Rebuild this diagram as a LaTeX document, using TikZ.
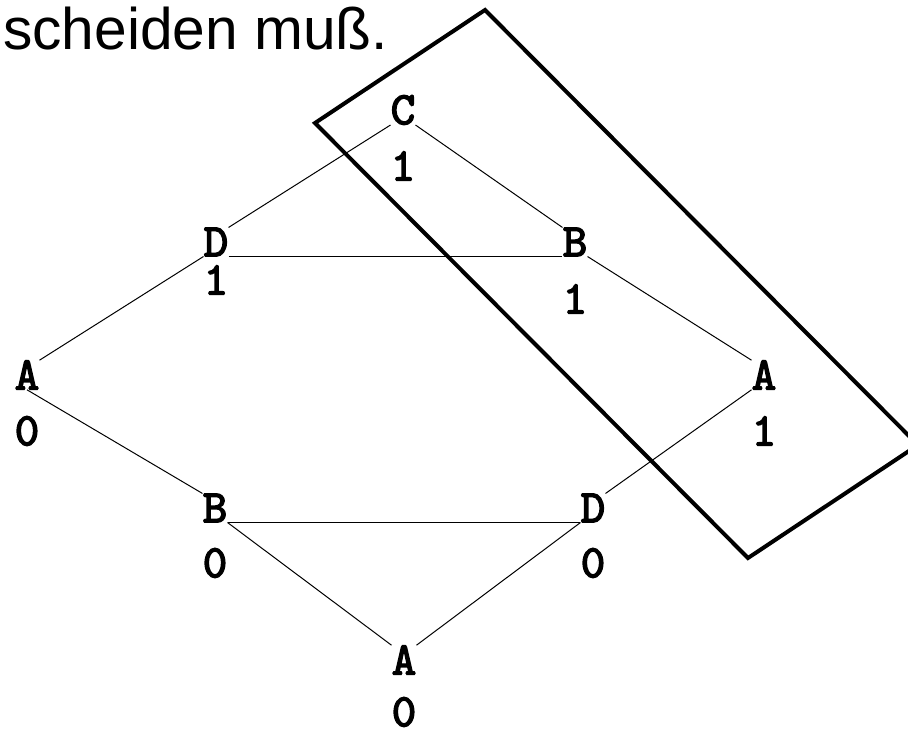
\documentclass[tikz,border=0pt]{standalone}
\usepackage{fontspec}
\newfontfamily\headfont{Liberation Sans}
\newfontfamily\lblfont{lmmono10-regular.otf}[FakeBold=3]
\tikzset{
  lbl/.style={font=\lblfont\fontsize{35}{35}\selectfont, inner sep=0pt},
  link/.style={line width=0.75pt},
  frame/.style={line width=3pt, line join=miter},
}
\begin{document}
\begin{tikzpicture}[x=0.75pt, y=-0.75pt]
  \clip (0,0) rectangle (908,730);

  % heading line
  \node[font=\headfont\fontsize{44}{44}\selectfont, inner sep=0pt, anchor=base west] (head) at (3,50) {scheiden muß.};

  % states with their values
  \node[lbl] (C)  at (403,110) {C};  \node[lbl] (c1)  at (403,166) {1};
  \node[lbl] (Dt) at (216,242) {D};  \node[lbl] (dt1) at (216,280) {1};
  \node[lbl] (Bt) at (575,242) {B};  \node[lbl] (bt1) at (575,299) {1};
  \node[lbl] (Al) at (27,375)  {A};  \node[lbl] (al0) at (27,431)  {0};
  \node[lbl] (Ar) at (764,375) {A};  \node[lbl] (ar1) at (764,431) {1};
  \node[lbl] (Bb) at (215,508) {B};  \node[lbl] (bb0) at (215,563) {0};
  \node[lbl] (Db) at (593,508) {D};  \node[lbl] (db0) at (593,563) {0};
  \node[lbl] (Ab) at (404,660) {A};  \node[lbl] (ab0) at (404,712) {0};

  % connections
  \draw[link] (C.south west)  -- (Dt.north east);
  \draw[link] (C.south east)  -- (Bt.north west);
  \draw[link] (Dt.south east) -- (Bt.south west);
  \draw[link] (Al.north east) -- (Dt.south west);
  \draw[link] (Al.south)      -- (Bb.north west);
  \draw[link] (Bt.south east) -- (Ar.north west);
  \draw[link] (Ar.south west) -- (Db.north east);
  \draw[link] (Bb.south east) -- (Db.south west);
  \draw[link] (Bb.south east) -- (Ab.north west);
  \draw[link] (Ab.north east) -- (Db.south west);

  % tilted frame around the marked group
  \coordinate (fl) at (315,123);
  \coordinate (ft) at (485,10);
  \coordinate (fr) at (918,445);
  \coordinate (fb) at (748,558);
  \draw[frame] (fl) -- (ft) -- (fr) -- (fb) -- cycle;
\end{tikzpicture}
\end{document}
